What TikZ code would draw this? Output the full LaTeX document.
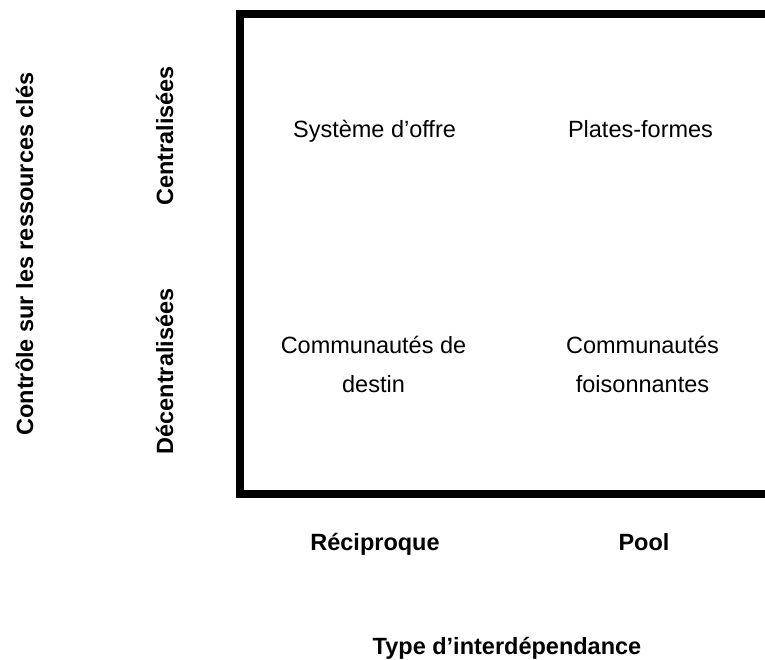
\documentclass[tikz,border=0pt]{standalone}
\usepackage{fontspec}
\setmainfont{Liberation Sans}
\begin{document}
\begin{tikzpicture}[x=1pt,y=-1pt,
  cell/.style={font=\fontsize{23.5}{39}\selectfont, align=center, anchor=base, inner sep=0pt},
  axislab/.style={font=\fontsize{23.5}{28}\selectfont\bfseries, anchor=base, inner sep=0pt},
  vlab/.style={axislab, rotate=90},
  frame/.style={line width=8pt, line join=miter, line cap=butt}]
\useasboundingbox (0,0) rectangle (765,660);
\coordinate (tr) at (800,14);
\coordinate (tl) at (240,14);
\coordinate (bl) at (240,494);
\coordinate (br) at (800,494);
\draw[frame] (tr) -- (tl) -- (bl) -- (br);
\node[vlab] (ctrl) at (33,254) {Contrôle sur les ressources clés};
\node[vlab] (cent) at (173,136) {Centralisées};
\node[vlab] (dec) at (173,371.5) {Décentralisées};
\node[cell] (so) at (374.5,138) {Système d’offre};
\node[cell] (pf) at (640.5,138) {Plates-formes};
\node[cell] (cd) at (373.5,392) {Communautés de\\destin};
\node[cell] (cf) at (642.5,392) {Communautés\\foisonnantes};
\node[axislab] (rec) at (375,550) {Réciproque};
\node[axislab] (pool) at (644,550) {Pool};
\node[axislab] (type) at (507,654) {Type d’interdépendance};
\end{tikzpicture}
\end{document}
